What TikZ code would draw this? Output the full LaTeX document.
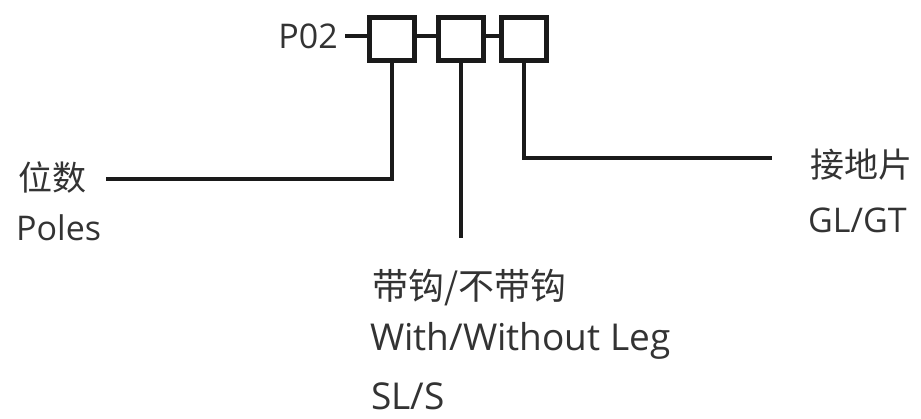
\documentclass[tikz,border=0pt]{standalone}
\usepackage{fontspec}
\setmainfont{Open Sans}
\newfontfamily\cjkfont{Noto Sans CJK SC}
\definecolor{ink}{HTML}{1A1A1A}
\definecolor{textgray}{HTML}{333333}
\begin{document}
\begin{tikzpicture}[x=1pt,y=-1pt,
  lbl/.style={inner sep=0pt, text=textgray, font=\fontsize{34}{40}\selectfont},
  cjklbl/.style={inner sep=0pt, text=textgray, font=\fontsize{34}{40}\selectfont\cjkfont},
  biglbl/.style={inner sep=0pt, text=textgray, font=\fontsize{37}{44}\selectfont},
  bigcjklbl/.style={inner sep=0pt, text=textgray, font=\fontsize{36}{44}\selectfont\cjkfont},
  digitbox/.style={draw=ink, line width=5pt, minimum width=45pt, minimum height=43pt, inner sep=0pt, outer sep=0pt},
  conn/.style={draw=ink, line width=4pt}]
\useasboundingbox (0,0) rectangle (921,418);
\fill[white] (0,0) rectangle (921,418);
% boxes
\node[digitbox] (b1) at (392,39) {};
\node[digitbox] (b2) at (461,39) {};
\node[digitbox] (b3) at (524,39) {};
% prefix
\node[lbl, anchor=base east] (p02) at (338,48) {P02};
\draw[conn] ([xshift=7pt]p02.east) -- (p02.east -| b1.west);
\draw[conn] (b1.east |- p02.east) -- (b2.west |- p02.east);
\draw[conn] (b2.east |- p02.east) -- (b3.west |- p02.east);
% labels
\node[cjklbl, anchor=base west] (weishu) at (18,190) {位数};
\node[lbl, anchor=base west] (poles) at (16,240) {Poles};
\node[bigcjklbl, anchor=base west] (daigou) at (372,299) {带钩/不带钩};
\node[biglbl, anchor=base west] (withleg) at (370,350) {With/Without Leg};
\node[biglbl, anchor=base west] (sls) at (371,409) {SL/S};
\node[cjklbl, anchor=base west] (jiedi) at (810,177) {接地片};
\node[lbl, anchor=base west] (glgt) at (808,232) {GL/GT};
% connector ends
\coordinate (e1) at (106,179);
\coordinate (e2) at (461,238);
\coordinate (e3) at (772,158);
\draw[conn] (b1.south) |- (e1);
\draw[conn] (b2.south) -- (e2);
\draw[conn] (b3.south) |- (e3);
\end{tikzpicture}
\end{document}
